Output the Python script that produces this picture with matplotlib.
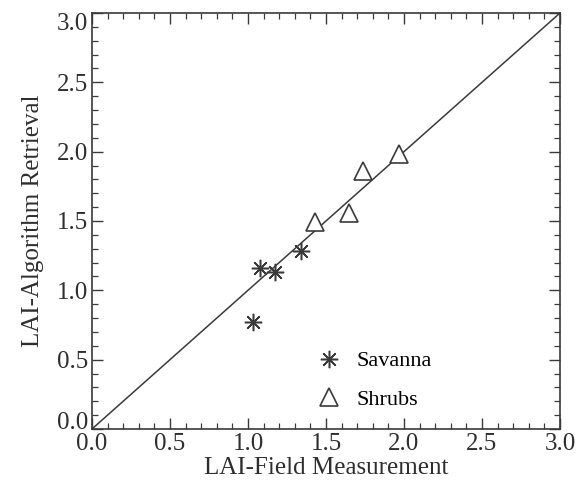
import matplotlib
matplotlib.use('Agg')
import matplotlib.pyplot as plt
from matplotlib.ticker import MultipleLocator

# ------------------------------------------------------------------
# Data
# ------------------------------------------------------------------
savanna_field = [1.03, 1.08, 1.17, 1.34]
savanna_retrieval = [0.77, 1.16, 1.13, 1.28]

shrubs_field = [1.43, 1.65, 1.74, 1.97]
shrubs_retrieval = [1.49, 1.56, 1.86, 1.98]

one_to_one = [0.0, 3.0]

C_INK = '#3a3a3a'
C_TEXT = '#2e2e2e'

plt.rcParams['font.family'] = ['Liberation Serif', 'DejaVu Serif']

fig = plt.figure(figsize=(5.87, 4.94), dpi=100)
ax = fig.add_axes([0.1567, 0.1316, 0.7973, 0.8421])

ax.plot(one_to_one, one_to_one, color=C_INK, lw=1.1, zorder=1)

ax.plot(savanna_field, savanna_retrieval, linestyle='none',
        marker=(8, 2, 0), markersize=12.5, markeredgewidth=1.1,
        color=C_INK, label='Savanna', zorder=3)
ax.plot(shrubs_field, shrubs_retrieval, linestyle='none',
        marker='^', markersize=13, markeredgewidth=1.2,
        markerfacecolor='white', markeredgecolor=C_INK,
        label='Shrubs', zorder=3)

ax.set_xlim(0, 3)
ax.set_ylim(0, 3)
ax.xaxis.set_major_locator(MultipleLocator(0.5))
ax.yaxis.set_major_locator(MultipleLocator(0.5))
ax.xaxis.set_minor_locator(MultipleLocator(0.1))
ax.yaxis.set_minor_locator(MultipleLocator(0.1))
ax.xaxis.set_major_formatter(lambda v, p: f'{v:.1f}')
ax.yaxis.set_major_formatter(lambda v, p: f'{v:.1f}')

ax.tick_params(which='both', direction='in', top=True, right=True,
               color=C_INK, labelcolor=C_TEXT, labelsize=18)
ax.tick_params(axis='x', which='major', pad=3)
ax.tick_params(axis='y', which='major', pad=3)
ax.tick_params(which='major', length=8, width=1.0)
ax.tick_params(which='minor', length=4, width=0.9)
for s in ax.spines.values():
    s.set_color(C_INK)
    s.set_linewidth(1.2)

ax.set_xlabel('LAI-Field Measurement', fontsize=18, color=C_TEXT,
              labelpad=1)
ax.set_ylabel('LAI-Algorithm Retrieval', fontsize=18, color=C_TEXT,
              labelpad=9)

ax.legend(loc='lower left', bbox_to_anchor=(0.46, 0.025), frameon=False,
          fontsize=16, handlelength=1.2, handletextpad=0.6,
          labelspacing=0.8, borderaxespad=0.0)

# end labels on the y axis sit inside the frame, as in the original
fig.canvas.draw()
for t in ax.yaxis.get_major_ticks():
    if abs(t.get_loc() - 0.0) < 1e-9:
        t.label1.set_verticalalignment('baseline')
    elif abs(t.get_loc() - 3.0) < 1e-9:
        t.label1.set_verticalalignment('top')

fig.savefig('out.png', dpi=100)
